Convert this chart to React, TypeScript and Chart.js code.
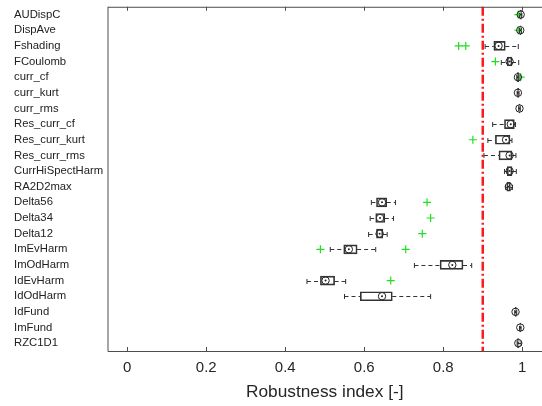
import React, { useEffect, useRef } from 'react';
import { Chart, registerables } from 'chart.js';

Chart.register(...registerables);

const categories = [
  'AUDispC', 'DispAve', 'Fshading', 'FCoulomb', 'curr_cf', 'curr_kurt', 'curr_rms',
  'Res_curr_cf', 'Res_curr_kurt', 'Res_curr_rms', 'CurrHiSpectHarm', 'RA2D2max',
  'Delta56', 'Delta34', 'Delta12', 'ImEvHarm', 'ImOdHarm', 'IdEvHarm', 'IdOdHarm',
  'IdFund', 'ImFund', 'RZC1D1',
];

const whiskerLow = [0.993, 0.993, 0.906, 0.947, 0.986, 0.987, 0.991, 0.925, 0.913, 0.903, 0.955, 0.958, 0.618, 0.615, 0.611, 0.514, 0.727, 0.455, 0.550, 0.981, 0.993, 0.987];
const q1 = [0.994, 0.994, 0.928, 0.962, 0.987, 0.988, 0.992, 0.955, 0.932, 0.941, 0.962, 0.961, 0.631, 0.629, 0.631, 0.548, 0.792, 0.489, 0.590, 0.982, 0.994, 0.988];
const median = [0.996, 0.995, 0.940, 0.968, 0.989, 0.989, 0.993, 0.971, 0.959, 0.968, 0.968, 0.966, 0.645, 0.640, 0.639, 0.561, 0.823, 0.502, 0.645, 0.983, 0.995, 0.990];
const q3 = [0.998, 0.997, 0.957, 0.974, 0.991, 0.991, 0.994, 0.980, 0.969, 0.974, 0.974, 0.970, 0.657, 0.652, 0.647, 0.582, 0.850, 0.525, 0.671, 0.985, 0.996, 0.992];
const whiskerHigh = [0.999, 0.998, 0.990, 0.991, 0.992, 0.992, 0.995, 0.983, 0.974, 0.984, 0.985, 0.975, 0.679, 0.674, 0.658, 0.629, 0.872, 0.553, 0.768, 0.986, 0.997, 0.997];
const outliers: number[][] = [
  [0.990], [0.990], [0.839, 0.857], [0.932], [0.996], [], [],
  [], [0.875], [], [], [],
  [0.759], [0.768], [0.747], [0.489, 0.705], [], [0.667], [],
  [], [], [],
];

const xTicks = [0, 0.2, 0.4, 0.6, 0.8, 1];
const xMin = -0.05;
const xMax = 1.05;
const threshold = 0.9;

const FONT = "'Liberation Sans', Arial, Helvetica, sans-serif";
const TEXT = '#262626';
const AXIS = '#4d4d4d';
const BOXC = '#333333';
const GREEN = '#22dd22';

const boxPlugin = {
  id: 'boxExtras',
  beforeDatasetsDraw(chart: any) {
    const { ctx, scales } = chart;
    const xs = scales.x;
    const ys = scales.y;
    ctx.save();
    ctx.strokeStyle = BOXC;
    ctx.lineWidth = 1;
    categories.forEach((_, i) => {
      const y = Math.round(ys.getPixelForValue(i)) + 0.5;
      const xl = xs.getPixelForValue(whiskerLow[i]);
      const x1 = xs.getPixelForValue(q1[i]);
      const x3 = xs.getPixelForValue(q3[i]);
      const xh = xs.getPixelForValue(whiskerHigh[i]);
      ctx.setLineDash([4, 3]);
      ctx.beginPath();
      ctx.moveTo(xl, y);
      ctx.lineTo(x1, y);
      ctx.moveTo(x3, y);
      ctx.lineTo(xh, y);
      ctx.stroke();
      ctx.setLineDash([]);
      ctx.beginPath();
      ctx.moveTo(xl, y - 2.5);
      ctx.lineTo(xl, y + 2.5);
      ctx.moveTo(xh, y - 2.5);
      ctx.lineTo(xh, y + 2.5);
      ctx.stroke();
    });
    ctx.restore();
  },
  afterDatasetsDraw(chart: any) {
    const { ctx, scales, chartArea } = chart;
    const x = scales.x.getPixelForValue(threshold);
    ctx.save();
    ctx.strokeStyle = '#ff1a1a';
    ctx.lineWidth = 2.5;
    ctx.setLineDash([9, 3, 2, 3]);
    ctx.beginPath();
    ctx.moveTo(x, chartArea.top);
    ctx.lineTo(x, chartArea.bottom);
    ctx.stroke();
    ctx.restore();
  },
  afterDraw(chart: any) {
    const { ctx, scales, chartArea } = chart;
    const { left, top, right, bottom } = chartArea;
    ctx.save();
    ctx.strokeStyle = AXIS;
    ctx.lineWidth = 1;
    ctx.beginPath();
    ctx.moveTo(left + 0.5, top + 0.5);
    ctx.lineTo(right, top + 0.5);
    ctx.moveTo(left + 0.5, top);
    ctx.lineTo(left + 0.5, bottom + 0.5);
    ctx.lineTo(right, bottom + 0.5);
    xTicks.forEach((v) => {
      const px = Math.round(scales.x.getPixelForValue(v)) + 0.5;
      ctx.moveTo(px, bottom);
      ctx.lineTo(px, bottom - 4);
      ctx.moveTo(px, top);
      ctx.lineTo(px, top + 4);
    });
    ctx.stroke();
    ctx.restore();
  },
};

export default function App() {
  const ref = useRef<HTMLCanvasElement | null>(null);
  useEffect(() => {
    if (!ref.current) return;
    const chart = new Chart(ref.current, {
      type: 'bar',
      data: {
        labels: categories,
        datasets: [
          {
            type: 'bar',
            indexAxis: 'y',
            data: categories.map((_, i) => [q1[i], q3[i]]),
            backgroundColor: 'rgba(0,0,0,0)',
            borderColor: BOXC,
            borderWidth: 1,
            borderSkipped: false,
            barThickness: 9,
          } as any,
          {
            type: 'scatter',
            data: median.map((m, i) => ({ x: m, y: categories[i] })),
            pointStyle: 'circle',
            pointRadius: 3.7,
            pointBorderColor: '#222222',
            pointBackgroundColor: 'rgba(255,255,255,0)',
            pointBorderWidth: 1,
          } as any,
          {
            type: 'scatter',
            data: median.map((m, i) => ({ x: m, y: categories[i] })),
            pointStyle: 'circle',
            pointRadius: 1,
            pointBorderWidth: 0,
            pointBackgroundColor: '#222222',
          } as any,
          {
            type: 'scatter',
            data: outliers.flatMap((arr, i) => arr.map((v) => ({ x: v, y: categories[i] }))),
            pointStyle: 'cross',
            pointRadius: 4,
            pointBorderColor: GREEN,
            pointBorderWidth: 1.2,
          } as any,
        ],
      },
      options: {
        responsive: false,
        animation: false,
        events: [],
        layout: { autoPadding: false, padding: { left: 14, top: 6, right: 0, bottom: 0 } },
        plugins: { legend: { display: false }, tooltip: { enabled: false } },
        scales: {
          x: {
            type: 'linear',
            position: 'bottom',
            offset: false,
            min: xMin,
            max: xMax,
            grid: { display: false, drawTicks: false, offset: false },
            border: { display: false },
            afterBuildTicks: (s: any) => {
              s.ticks = xTicks.map((v) => ({ value: v }));
            },
            afterFit: (s: any) => {
              s.height = 55;
            },
            ticks: {
              color: TEXT,
              padding: 8,
              font: { family: FONT, size: 15 },
              callback: (v: any) => String(Math.round(Number(v) * 10) / 10),
            },
            title: {
              display: true,
              text: 'Robustness index [-]',
              color: TEXT,
              font: { family: FONT, size: 17.3 },
              padding: { top: 0, bottom: 3.6 },
            },
          },
          y: {
            type: 'category',
            position: 'left',
            offset: true,
            grid: { display: false, drawTicks: false },
            border: { display: false },
            afterFit: (s: any) => {
              s.width = 93.5;
            },
            ticks: {
              color: '#222222',
              crossAlign: 'far',
              autoSkip: false,
              padding: 0,
              font: { family: FONT, size: 11.3 },
            },
          },
        },
      } as any,
      plugins: [boxPlugin],
    });
    return () => chart.destroy();
  }, []);
  return (
    <div style={{ position: 'absolute', left: 0, top: 0, width: 542, height: 406, background: '#fff' }}>
      <canvas ref={ref} width={542} height={406} style={{ display: 'block' }} />
    </div>
  );
}
